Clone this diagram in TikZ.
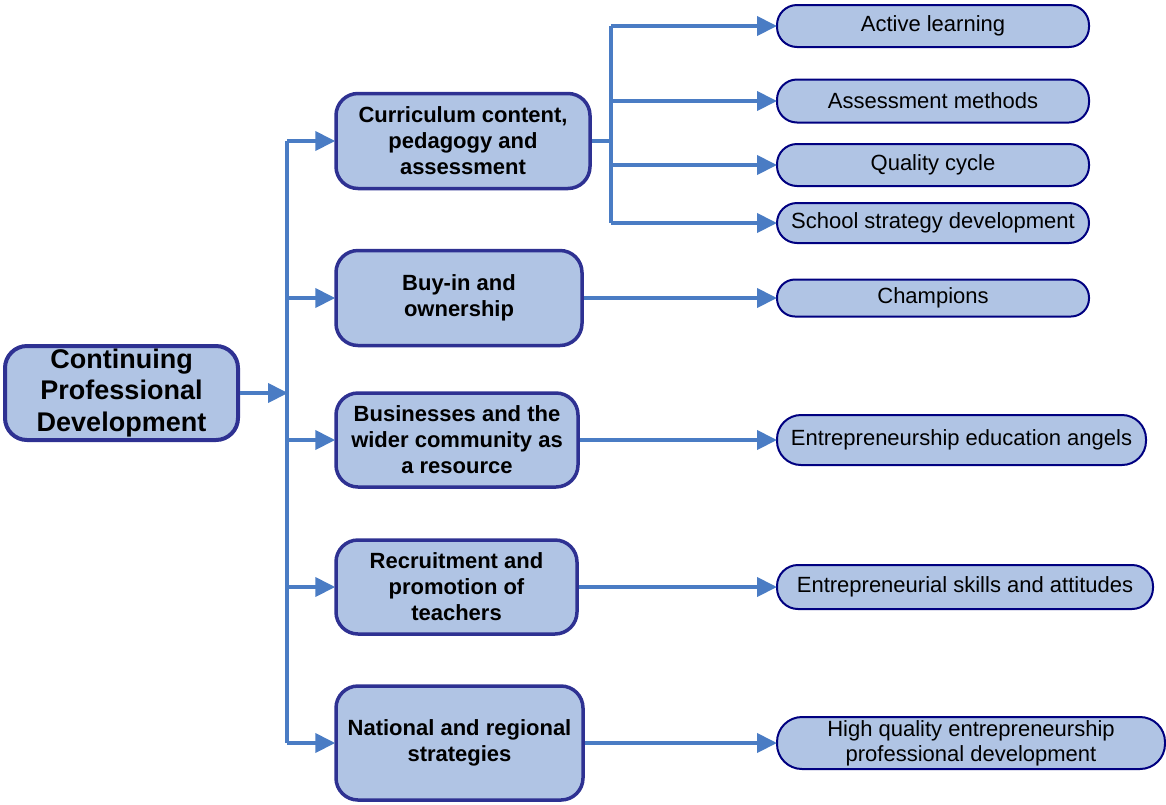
\documentclass[tikz,border=0pt]{standalone}
\usepackage{fontspec}
\setmainfont{Liberation Sans}
\usetikzlibrary{arrows.meta}
\definecolor{boxfill}{HTML}{B0C4E4}
\definecolor{midborder}{HTML}{2E3192}
\definecolor{rborder}{HTML}{000080}
\definecolor{arrowc}{HTML}{4A7CC4}
\tikzset{
  mainbox/.style={draw=midborder, line width=4pt, fill=boxfill, rounded corners=22pt, align=center, font=\fontsize{27}{31.5}\selectfont\bfseries, inner sep=0pt},
  midbox/.style={draw=midborder, line width=3.5pt, fill=boxfill, rounded corners=22pt, align=center, font=\fontsize{22}{26}\selectfont\bfseries, inner sep=0pt},
  leaf/.style={draw=rborder, line width=2pt, fill=boxfill, rounded corners=20pt, align=center, font=\fontsize{22}{25}\selectfont, inner sep=0pt},
  conn/.style={draw=arrowc, line width=4pt},
  arr/.style={conn, -{Triangle[length=20pt,width=19pt]}, shorten >=-1pt},
}
\begin{document}
\begin{tikzpicture}[x=1pt,y=-1pt]
\useasboundingbox (0,0) rectangle (1166,804);
% main node
\node[mainbox, minimum width=233pt, minimum height=94pt] (main) at (121.5,393) {Continuing\\Professional\\Development};
% middle nodes
\node[midbox, minimum width=254pt, minimum height=95pt] (m1) at (463,141) {Curriculum content,\\pedagogy and\\assessment};
\node[midbox, minimum width=246pt, minimum height=95pt] (m2) at (459,298) {Buy-in and\\ownership};
\node[midbox, minimum width=242pt, minimum height=94pt] (m3) at (457,440) {Businesses and the\\wider community as\\a resource};
\node[midbox, minimum width=241pt, minimum height=94pt] (m4) at (456.5,587) {Recruitment and\\promotion of\\teachers};
\node[midbox, minimum width=247pt, minimum height=114pt] (m5) at (459.5,743) {National and regional\\strategies};
% leaves
\node[leaf, minimum width=312pt, minimum height=42pt] (r1) at (933,26) {Active learning};
\node[leaf, minimum width=312pt, minimum height=43pt] (r2) at (933,101) {Assessment methods};
\node[leaf, minimum width=312pt, minimum height=42pt] (r3) at (933,165) {Quality cycle};
\node[leaf, minimum width=312pt, minimum height=40pt] (r4) at (933,223) {School strategy development};
\node[leaf, minimum width=312pt, minimum height=37pt, rounded corners=18pt] (r5) at (933,298) {Champions};
\node[leaf, minimum width=369pt, minimum height=50pt, rounded corners=24pt] (r6) at (961.5,440) {Entrepreneurship education angels};
\node[leaf, minimum width=376pt, minimum height=44pt, rounded corners=21pt] (r7) at (965,587) {Entrepreneurial skills and attitudes};
\node[leaf, minimum width=388pt, minimum height=52pt, rounded corners=25pt] (r8) at (971,743) {High quality entrepreneurship\\professional development};
% spine coordinates
\coordinate (s1) at (287,141);
\coordinate (s2) at (287,298);
\coordinate (s3) at (287,440);
\coordinate (s4) at (287,587);
\coordinate (s5) at (287,743);
\coordinate (t1) at (611,26);
\coordinate (t2) at (611,101);
\coordinate (t3) at (611,165);
\coordinate (t4) at (611,223);
% connectors
\draw[conn] (s1) -- (s5);
\draw[arr] (main.east) -- (main.east -| s1);
\draw[arr] (s1) -- (m1.west);
\draw[arr] (s2) -- (m2.west);
\draw[arr] (s3) -- (m3.west);
\draw[arr] (s4) -- (m4.west);
\draw[arr] (s5) -- (m5.west);
\draw[conn] (t1) -- (t4);
\draw[conn] (m1.east) -- (m1.east -| t1);
\draw[arr] (t1) -- (r1.west);
\draw[arr] (t2) -- (r2.west);
\draw[arr] (t3) -- (r3.west);
\draw[arr] (t4) -- (r4.west);
\draw[arr] (m2.east) -- (r5.west);
\draw[arr] (m3.east) -- (r6.west);
\draw[arr] (m4.east) -- (r7.west);
\draw[arr] (m5.east) -- (r8.west);
\end{tikzpicture}
\end{document}
